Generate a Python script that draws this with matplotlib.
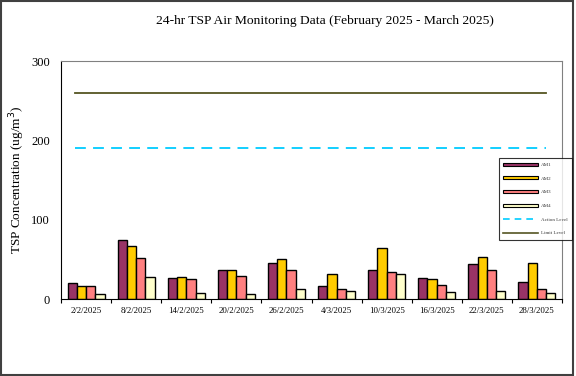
import numpy as np
import matplotlib
matplotlib.use("Agg")
import matplotlib.pyplot as plt
from matplotlib.patches import Patch
from matplotlib.lines import Line2D

plt.rcParams["font.family"] = ["Liberation Serif", "DejaVu Serif"]

dates = ["2/2/2025", "8/2/2025", "14/2/2025", "20/2/2025", "26/2/2025",
         "4/3/2025", "10/3/2025", "16/3/2025", "22/3/2025", "28/3/2025"]
am1 = [20, 75, 26, 37, 45, 17, 37, 26, 44, 22]
am2 = [17, 67, 28, 36, 50, 31, 64, 25, 53, 46]
am3 = [16, 52, 25, 29, 37, 13, 34, 18, 37, 13]
am4 = [6, 28, 8, 6, 12, 10, 31, 9, 10, 8]
action_level = 190
limit_level = 260

series = [("AM1", am1, "#993366"), ("AM2", am2, "#FFCC00"),
          ("AM3", am3, "#FF8080"), ("AM4", am4, "#FFFFCC")]

fig = plt.figure(figsize=(5.76, 3.76), dpi=100)
ax = fig.add_axes([61 / 576, 1 - 299 / 376, 501 / 576, 238 / 376])

x = np.arange(len(dates))
w = 0.185
for i, (name, vals, col) in enumerate(series):
    ax.bar(x + (i - 1.5) * w, vals, w, color=col, edgecolor="black", linewidth=1.0)

ax.axhline(action_level, xmin=0.028, xmax=0.968, color="#00CCFF", lw=1.3, ls=(0, (6, 4)))
ax.axhline(limit_level, xmin=0.028, xmax=0.968, color="#555522", lw=1.3)

ax.set_xlim(-0.5, len(dates) - 0.5)
ax.set_ylim(0, 300)
ax.set_yticks([0, 100, 200, 300])
ax.tick_params(axis="y", length=0, labelsize=9, pad=8)
ax.set_xticks(x)
ax.set_xticklabels(dates, fontsize=6.3)
ax.tick_params(axis="x", length=0, pad=6)
ax.set_xticks(np.arange(len(dates) + 1) - 0.5, minor=True)
ax.tick_params(axis="x", which="minor", length=3, width=0.8, direction="out")
ax.set_ylabel("TSP Concentration (ug/m$^3$)", fontsize=9.5, labelpad=3)
for s in ["top", "right"]:
    ax.spines[s].set_color("#808080")
for s in ["left", "bottom"]:
    ax.spines[s].set_color("black")

fig.text(325 / 576, 1 - 21 / 376, "24-hr TSP Air Monitoring Data (February 2025 - March 2025)",
         ha="center", va="center", fontsize=9.7)

handles = [Patch(facecolor=c, edgecolor="black", linewidth=0.8) for _, _, c in series]
handles += [Line2D([], [], color="#00CCFF", lw=1.2, ls=(0, (4, 3))),
            Line2D([], [], color="#555522", lw=1.2)]
labels = ["AM1", "AM2", "AM3", "AM4", "Action Level", "Limit Level"]
leg = fig.legend(handles, labels, loc="center",
                 bbox_to_anchor=(498 / 576, 1 - 240 / 376, 75 / 576, 82 / 376),
                 fontsize=3.6, handlelength=7, handleheight=0.5, labelspacing=1.9,
                 frameon=True, fancybox=False, edgecolor="black", borderpad=0.9,
                 handletextpad=0.5, borderaxespad=0, labelcolor="#333333")
leg.get_frame().set_linewidth(0.8)

fig.patches.append(plt.Rectangle((0.002, 0.003), 0.993, 0.994, transform=fig.transFigure,
                                 fill=False, edgecolor="#404040", linewidth=1.5))

fig.savefig("out.png", dpi=100)
